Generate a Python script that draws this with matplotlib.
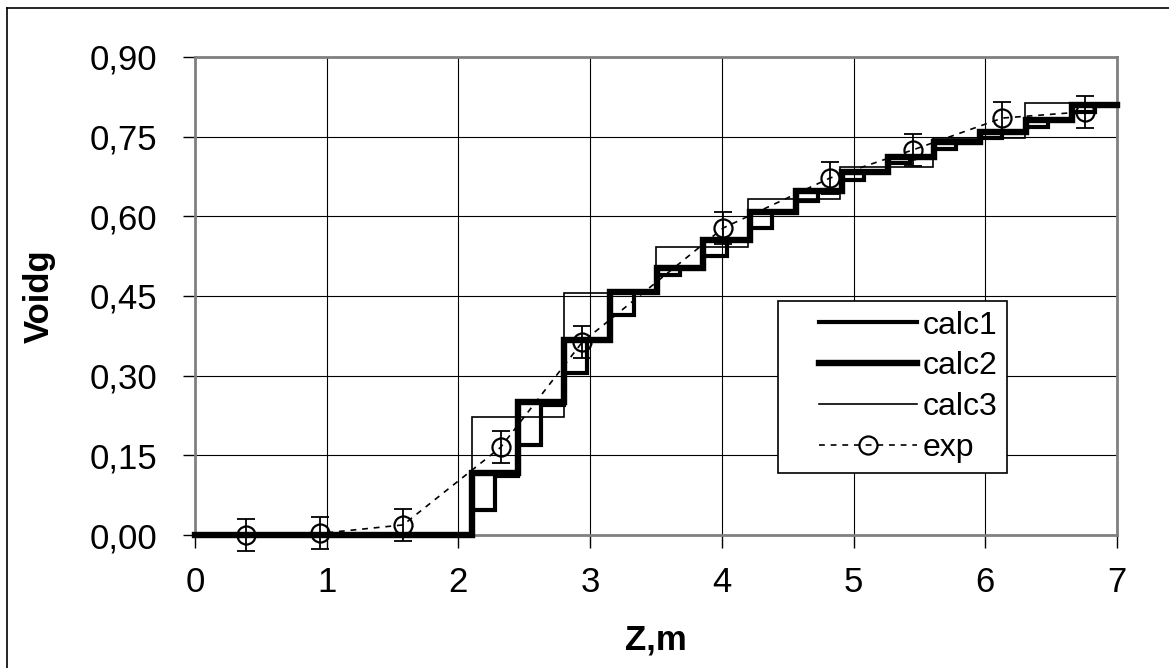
import matplotlib
matplotlib.use('Agg')
import matplotlib.pyplot as plt
from matplotlib.legend_handler import HandlerLine2D
from matplotlib.lines import Line2D
import numpy as np

plt.rcParams['font.family'] = ['Liberation Sans', 'DejaVu Sans']

# ---------------- data ----------------
calc1_z = [0.0, 2.10, 2.28, 2.45, 2.63, 2.80, 2.98, 3.15, 3.33, 3.51, 3.68, 3.86, 4.04,
           4.21, 4.38, 4.56, 4.73, 4.91, 5.08, 5.26, 5.43, 5.61, 5.78, 5.96, 6.13,
           6.31, 6.48, 6.66, 6.83, 7.00]
calc1_v = [0.0, 0.047, 0.112, 0.170, 0.245, 0.305, 0.367, 0.414, 0.457, 0.490, 0.503,
           0.525, 0.555, 0.578, 0.608, 0.628, 0.648, 0.668, 0.684, 0.700, 0.712,
           0.727, 0.740, 0.748, 0.758, 0.768, 0.781, 0.796, 0.810, 0.810]

calc2_z = [0.0, 2.10, 2.45, 2.80, 3.15, 3.51, 3.86, 4.21, 4.56, 4.91, 5.26, 5.61, 5.96,
           6.31, 6.66, 7.00]
calc2_v = [0.0, 0.116, 0.250, 0.367, 0.457, 0.503, 0.555, 0.608, 0.648, 0.684, 0.712,
           0.740, 0.758, 0.781, 0.810, 0.810]

calc3_z = [0.0, 2.10, 2.80, 3.50, 4.20, 4.90, 5.60, 6.30, 7.00]
calc3_v = [0.0, 0.222, 0.455, 0.542, 0.632, 0.693, 0.748, 0.813, 0.813]

exp_z = [0.385, 0.95, 1.58, 2.32, 2.94, 4.01, 4.82, 5.45, 6.13, 6.76]
exp_v = [0.000, 0.003, 0.019, 0.165, 0.363, 0.578, 0.672, 0.725, 0.785, 0.797]
exp_err = [0.03, 0.03, 0.03, 0.03, 0.03, 0.03, 0.03, 0.03, 0.03, 0.03]

x_ticks = [0, 1, 2, 3, 4, 5, 6, 7]
y_ticks = [0.00, 0.15, 0.30, 0.45, 0.60, 0.75, 0.90]
y_ticklabels = ['0,00', '0,15', '0,30', '0,45', '0,60', '0,75', '0,90']
series_labels = ['calc1', 'calc2', 'calc3', 'exp']


class InsetLineHandler(HandlerLine2D):
    def __init__(self, inset=0.0, **kw):
        super().__init__(**kw)
        self.inset = inset

    def get_xdata(self, legend, xdescent, ydescent, width, height, fontsize):
        x0 = -xdescent + self.inset
        x1 = -xdescent + width
        return [x0, x1], [0.5 * (x0 + x1)]


fig = plt.figure(figsize=(11.69, 6.68), dpi=100)
ax = fig.add_axes([0.1668, 0.1991, 0.7887, 0.7156])

dash = (0, (3.5, 3.5))
h3, = ax.step(calc3_z, calc3_v, where='post', color='black', lw=1.2,
              clip_on=False, zorder=3, solid_joinstyle='miter')
h1, = ax.step(calc1_z, calc1_v, where='post', color='black', lw=3.0,
              clip_on=False, zorder=4, solid_joinstyle='miter')
h2, = ax.step(calc2_z, calc2_v, where='post', color='black', lw=4.6,
              clip_on=False, zorder=5, solid_joinstyle='miter')

ax.errorbar(exp_z, exp_v, yerr=exp_err, fmt='none', ecolor='black',
            elinewidth=1.3, capsize=6.5, capthick=1.3, zorder=6, clip_on=False)
h4, = ax.plot(exp_z, exp_v, color='black', lw=1.2, linestyle=dash, marker='o',
              ms=13, mfc='none', mec='black', mew=1.6, zorder=7, clip_on=False)

ax.set_xlim(0, 7)
ax.set_ylim(0, 0.9)
ax.set_xticks(x_ticks)
ax.set_xticklabels([str(t) for t in x_ticks])
ax.set_yticks(y_ticks)
ax.set_yticklabels(y_ticklabels)

ax.tick_params(axis='both', direction='out', length=9, width=1, color='black',
               labelsize=25)
ax.tick_params(axis='x', pad=13)
ax.tick_params(axis='y', pad=18)

ax.grid(True, color='black', lw=0.8)
ax.set_axisbelow(True)
for s in ax.spines.values():
    s.set_color('#808080')
    s.set_linewidth(2)

ax.set_xlabel('Z,m', fontsize=25, fontweight='bold')
ax.set_ylabel('Voidg', fontsize=25, fontweight='bold')
ax.xaxis.label.set(va='center', ha='center')
ax.yaxis.label.set(va='center', ha='center', rotation_mode='default')
ax.xaxis.set_label_coords(0.5, -0.2197)
ax.yaxis.set_label_coords(-0.169, 0.5)

leg = ax.legend([h1, h2, h3, h4], series_labels, loc='upper left',
                bbox_to_anchor=(0.632, 0.4895), bbox_transform=ax.transAxes,
                borderaxespad=0, frameon=True, fancybox=False, edgecolor='black',
                framealpha=1, fontsize=23, handlelength=4.05, handletextpad=0.2,
                labelspacing=0.34, borderpad=0.3, numpoints=1,
                handler_map={Line2D: InsetLineHandler(inset=23)})
leg.get_frame().set_linewidth(1.2)
leg.set_zorder(10)

# outer chart border (left and top visible)
fig.add_artist(Line2D([7 / 1169, 7 / 1169], [0, 1 - 8 / 668], transform=fig.transFigure,
                      color='black', lw=1.2))
fig.add_artist(Line2D([7 / 1169, 1], [1 - 8 / 668, 1 - 8 / 668], transform=fig.transFigure,
                      color='black', lw=1.2))

fig.savefig('out.png', dpi=100)
